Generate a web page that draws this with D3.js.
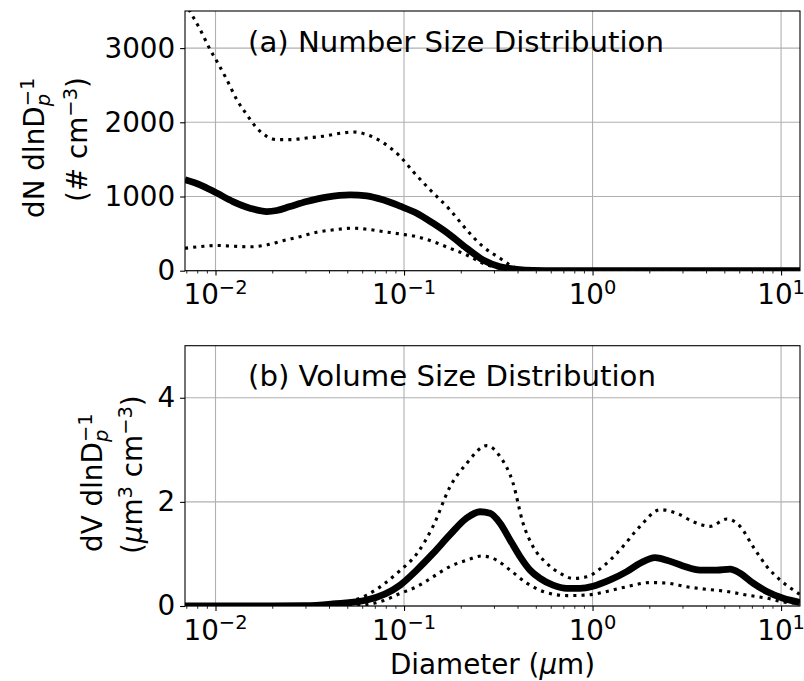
<!DOCTYPE html>
<html>
<head>
<meta charset="utf-8">
<script src="https://cdn.jsdelivr.net/npm/d3@7"></script>
<style>
  body { margin: 0; background: #fff; }
  svg { display: block; }
  text { font-family: "DejaVu Sans", sans-serif; fill: #000; white-space: pre; }
</style>
</head>
<body>
<svg id="chart" width="804" height="681"></svg>
<script>
// ---- Number size distribution (# cm^-3), diameter in µm ----
const numMedianD = [0.00689, 0.00828, 0.01015, 0.01238, 0.01524, 0.01869, 0.02112, 0.02484, 0.03047, 0.0389, 0.05169, 0.0634, 0.07735, 0.09524, 0.1168, 0.1425, 0.1754, 0.215, 0.2625, 0.3231, 0.3961, 0.4836, 0.7, 1.0, 12.6];
const numMedian  = [1226, 1158, 1046, 932, 843, 797, 811, 865, 932, 992, 1023, 1009, 955, 870, 775, 640, 482, 302, 145, 54, 19, 5, 1, 0, 0];

const numUpperD = [0.00689, 0.00732, 0.00828, 0.00935, 0.01015, 0.01147, 0.01296, 0.01464, 0.01654, 0.01869, 0.02112, 0.02484, 0.03047, 0.03718, 0.04747, 0.05363, 0.0634, 0.07735, 0.09524, 0.1116, 0.1374, 0.1754, 0.215, 0.2625, 0.3231, 0.365, 0.4124, 0.5, 0.7, 1.0, 12.6];
const numUpper  = [3620, 3496, 3253, 2983, 2825, 2577, 2307, 2104, 1924, 1811, 1766, 1766, 1789, 1811, 1857, 1870, 1834, 1726, 1540, 1338, 1091, 820, 550, 324, 167, 77, 19, 5, 1, 0, 0];

const numLowerD = [0.00689, 0.00828, 0.01015, 0.01238, 0.01524, 0.01869, 0.02281, 0.02807, 0.03443, 0.04201, 0.05363, 0.0634, 0.07735, 0.09524, 0.1168, 0.1425, 0.1754, 0.215, 0.2625, 0.3231, 0.365, 0.5, 1.0, 12.6];
const numLower  = [303, 324, 340, 330, 322, 347, 405, 459, 518, 550, 573, 559, 527, 495, 459, 392, 302, 212, 100, 32, 5, 1, 0, 0];

// ---- Volume size distribution (µm^3 cm^-3) ----
const volMedianD = [0.00689, 0.02, 0.03, 0.042, 0.0634, 0.0952, 0.1168, 0.1425, 0.1754, 0.215, 0.253, 0.2859, 0.3231, 0.365, 0.4124, 0.4661, 0.5266, 0.6172, 0.7297, 0.8586, 1.006, 1.238, 1.518, 1.786, 2.146, 2.475, 3.021, 3.719, 4.559, 5.364, 6.059, 7.105, 8.399, 10.25, 12.6];
const volMedian  = [0, 0, 0.005, 0.04, 0.115, 0.40, 0.69, 1.01, 1.37, 1.69, 1.81, 1.78, 1.59, 1.27, 0.95, 0.69, 0.53, 0.40, 0.34, 0.34, 0.38, 0.50, 0.66, 0.82, 0.93, 0.88, 0.77, 0.69, 0.69, 0.71, 0.63, 0.44, 0.28, 0.15, 0.07];

const volUpperD = [0.00689, 0.03, 0.045, 0.0634, 0.0952, 0.1168, 0.1425, 0.1754, 0.215, 0.2746, 0.3231, 0.3787, 0.4279, 0.4836, 0.5715, 0.6724, 0.7882, 0.9316, 1.137, 1.399, 1.786, 2.281, 2.797, 3.414, 4.201, 5.152, 6.059, 7.105, 8.399, 9.879, 11.58, 12.6];
const volUpper  = [0, 0, 0.04, 0.21, 0.68, 1.0, 1.53, 2.29, 2.74, 3.08, 2.87, 2.36, 1.59, 1.14, 0.82, 0.63, 0.53, 0.56, 0.76, 1.08, 1.53, 1.85, 1.78, 1.62, 1.53, 1.67, 1.53, 1.14, 0.76, 0.50, 0.31, 0.22];

const volLowerD = [0.00689, 0.045, 0.0634, 0.0774, 0.0952, 0.1168, 0.1425, 0.1754, 0.215, 0.2584, 0.3103, 0.365, 0.4477, 0.5462, 0.7297, 0.9316, 1.189, 1.518, 2.018, 2.475, 3.16, 4.035, 5.152, 6.577, 8.399, 10.25, 12.6];
const volLower  = [0, 0, 0.03, 0.10, 0.24, 0.37, 0.56, 0.76, 0.88, 0.96, 0.88, 0.69, 0.44, 0.28, 0.20, 0.21, 0.28, 0.37, 0.45, 0.44, 0.37, 0.32, 0.28, 0.21, 0.15, 0.08, 0.05];

// ---- Axis settings ----
const xDomain = [0.00689, 12.6];
const xMajorTicks = [0.01, 0.1, 1, 10];
const xMajorExp = ["−2", "−1", "0", "1"];
const numTicks = [0, 1000, 2000, 3000];
const volTicks = [0, 2, 4];

const FS = 27.8;          // base font size
const TITLE_FS = 29.2;    // panel title font size
const left = 185, right = 800;
const svg = d3.select("#chart");

const x = d3.scaleLog().domain(xDomain).range([left, right]);

// lay out a run of text with super/subscripts; returns the run width
function richRun(g, segs, base) {
  let cur = 0, prevStart = 0, prevEnd = 0;
  segs.forEach(s => {
    const small = s.sup || s.sub;
    const dy = s.sup ? -0.37 * base : (s.sub ? 0.2 * base : 0);
    const sx = s.stack ? prevStart : cur;
    const t = g.append("text")
      .attr("x", sx).attr("y", dy)
      .attr("font-size", small ? base * 0.7 : base)
      .style("font-style", s.italic ? "italic" : null)
      .text(s.t);
    const w = t.node().getComputedTextLength();
    if (s.stack) {
      cur = Math.max(prevEnd, sx + w);
    } else {
      prevStart = sx;
      cur = sx + w;
    }
    prevEnd = cur;
  });
  return cur;
}

function panel(cfg) {
  const { top, bottom, yDomain, yTicks, series, title, yLabel, clipId } = cfg;
  const y = d3.scaleLinear().domain(yDomain).range([bottom, top]);
  const g = svg.append("g");

  // grid
  g.append("g").selectAll("line").data(xMajorTicks).join("line")
    .attr("x1", d => x(d)).attr("x2", d => x(d))
    .attr("y1", top).attr("y2", bottom)
    .attr("stroke", "#b0b0b0").attr("stroke-width", 1.1);
  g.append("g").selectAll("line").data(yTicks).join("line")
    .attr("x1", left).attr("x2", right)
    .attr("y1", d => y(d)).attr("y2", d => y(d))
    .attr("stroke", "#b0b0b0").attr("stroke-width", 1.1);

  // clip to the axes box
  svg.append("clipPath").attr("id", clipId)
    .append("rect").attr("x", left).attr("y", top)
    .attr("width", right - left).attr("height", bottom - top);

  const line = d3.line()
    .x(d => x(d[0])).y(d => y(d[1]))
    .curve(d3.curveMonotoneX);

  const lines = g.append("g").attr("clip-path", `url(#${clipId})`);
  series.forEach(s => {
    const pts = s.d.map((dv, i) => [dv, s.v[i]]);
    const p = lines.append("path").datum(pts)
      .attr("d", line)
      .attr("fill", "none")
      .attr("stroke", "#000");
    if (s.dotted) {
      p.attr("stroke-width", 3.1).attr("stroke-dasharray", "3.1,5.1").attr("stroke-linecap", "butt");
    } else {
      p.attr("stroke-width", 6.8).attr("stroke-linejoin", "round").attr("stroke-linecap", "butt");
    }
  });

  // x ticks (major + minor)
  const minor = [];
  for (let e = -3; e <= 1; e++) for (let k = 2; k <= 9; k++) {
    const v = k * Math.pow(10, e);
    if (v >= xDomain[0] && v <= xDomain[1]) minor.push(v);
  }
  g.append("g").attr("transform", `translate(0,${bottom})`)
    .call(d3.axisBottom(x).tickValues(xMajorTicks).tickFormat("").tickSize(4.9).tickSizeOuter(0))
    .call(a => a.select(".domain").remove())
    .call(a => a.selectAll("line").attr("stroke-width", 1.1));
  g.append("g").attr("transform", `translate(0,${bottom})`)
    .call(d3.axisBottom(x).tickValues(minor).tickFormat("").tickSize(2.8).tickSizeOuter(0))
    .call(a => a.select(".domain").remove())
    .call(a => a.selectAll("line").attr("stroke-width", 0.85));

  // x tick labels 10^n
  xMajorTicks.forEach((v, i) => {
    const lg = g.append("g");
    const w = richRun(lg, [{ t: "10" }, { t: xMajorExp[i], sup: true }], FS);
    lg.attr("transform", `translate(${x(v) - w / 2},${bottom + 33.5})`);
  });

  // y axis
  g.append("g").attr("transform", `translate(${left},0)`)
    .call(d3.axisLeft(y).tickValues(yTicks).tickFormat(d3.format("d")).tickSize(4.9).tickPadding(4.9).tickSizeOuter(0))
    .call(a => a.select(".domain").remove())
    .call(a => a.selectAll("line").attr("stroke-width", 1.1))
    .call(a => a.selectAll("text").attr("font-size", FS).attr("font-family", "DejaVu Sans").attr("fill", "#000"));

  // frame
  g.append("rect").attr("x", left).attr("y", top)
    .attr("width", right - left).attr("height", bottom - top)
    .attr("fill", "none").attr("stroke", "#000").attr("stroke-width", 1.1);

  // panel title
  g.append("text").attr("x", 248).attr("y", top + 40.5)
    .attr("font-size", TITLE_FS).text(title);

  // rotated two-line y label
  yLabel.forEach(ln => {
    const lg = g.append("g");
    richRun(lg, ln.segs, FS);
    lg.attr("transform", `translate(${ln.baseX},${ln.startY}) rotate(-90)`);
  });
  return y;
}

panel({
  top: 11, bottom: 270.7, yDomain: [0, 3500], yTicks: numTicks, clipId: "clipN",
  title: "(a) Number Size Distribution",
  series: [
    { d: numUpperD, v: numUpper, dotted: true },
    { d: numLowerD, v: numLower, dotted: true },
    { d: numMedianD, v: numMedian }
  ],
  yLabel: [
    { baseX: 44, startY: 218, segs: [{ t: "dN dlnD" }, { t: "p", sub: true, italic: true }, { t: "−1", sup: true, stack: true }] },
    { baseX: 87, startY: 202, segs: [{ t: "(# cm" }, { t: "−3", sup: true }, { t: ")" }] }
  ]
});

panel({
  top: 345.7, bottom: 606, yDomain: [0, 5], yTicks: volTicks, clipId: "clipV",
  title: "(b) Volume Size Distribution",
  series: [
    { d: volUpperD, v: volUpper, dotted: true },
    { d: volLowerD, v: volLower, dotted: true },
    { d: volMedianD, v: volMedian }
  ],
  yLabel: [
    { baseX: 102, startY: 552, segs: [{ t: "dV dlnD" }, { t: "p", sub: true, italic: true }, { t: "−1", sup: true, stack: true }] },
    { baseX: 142, startY: 554, segs: [{ t: "(" }, { t: "μ", italic: true }, { t: "m" }, { t: "3", sup: true }, { t: " cm" }, { t: "−3", sup: true }, { t: ")" }] }
  ]
});

// x axis title
const xl = svg.append("g");
const xlw = richRun(xl, [{ t: "Diameter (" }, { t: "μ", italic: true }, { t: "m)" }], FS);
xl.attr("transform", `translate(${(left + right) / 2 - xlw / 2},674)`);
</script>
</body>
</html>
